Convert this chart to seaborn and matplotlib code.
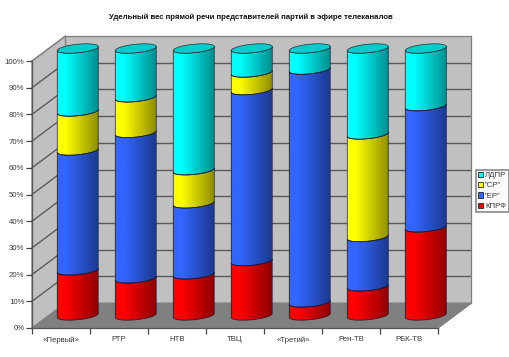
import numpy as np
import matplotlib
matplotlib.use("Agg")
import matplotlib.pyplot as plt
import seaborn as sns
import pandas as pd
from matplotlib.patches import Polygon, Patch
from matplotlib.colors import LinearSegmentedColormap
from matplotlib.lines import Line2D

channels = ["«Первый»", "РТР", "НТВ", "ТВЦ", "«Третий»", "Рен-ТВ", "РБК-ТВ"]
kprf = [16.9, 13.9, 15.4, 20.4, 4.9, 10.9, 33.0]
er = [44.9, 54.5, 26.6, 64.0, 87.2, 18.5, 45.4]
sr = [14.6, 13.3, 12.4, 6.6, 0.0, 38.4, 0.0]
ldpr = [23.6, 18.3, 45.6, 9.0, 7.9, 32.2, 21.6]
series_names = ["КПРФ", '"ЕР"', '"СР"', "ЛДПР"]
series_values = [kprf, er, sr, ldpr]
title = "Удельный вес прямой речи представителей партий в эфире телеканалов"

palette = {
    "КПРФ": ("#FF0000", "#8F0000", "#CC0000"),
    '"ЕР"': ("#3366FF", "#1C3A8F", "#2A52CC"),
    '"СР"': ("#FFFF00", "#8F8F00", "#CCCC00"),
    "ЛДПР": ("#00FFFF", "#008F8F", "#00CCCC"),
}

W, H = 510, 357
sns.set_theme(style="white")
plt.rcParams["font.family"] = ["Liberation Sans", "DejaVu Sans"]
fig = plt.figure(figsize=(W / 100, H / 100), dpi=100, facecolor="white")


def axes_px(left, top, right, bottom):
    return fig.add_axes([left / W, 1 - bottom / H, (right - left) / W, (bottom - top) / H])


def fpoly(pts, **kw):
    p = Polygon([(x / W, 1 - y / H) for x, y in pts], closed=True,
                transform=fig.transFigure, **kw)
    fig.add_artist(p)
    return p


def fline(xs, ys, **kw):
    fig.add_artist(Line2D([x / W for x in xs], [1 - y / H for y in ys],
                          transform=fig.transFigure, **kw))


FL, FR, FT, FB = 32, 438, 61, 328      # front plane
DX, DY = 33.5, 25                      # depth
GRID = "#5a5a5a"
WALL = "#C0C0C0"
EDGE = "#808080"

# back wall
ax_back = axes_px(FL + DX, FT - DY, FR + DX, FB - DY)
ax_back.set_facecolor(WALL)
ax_back.set_xlim(0, 1)
ax_back.set_ylim(0, 100)
ax_back.set_xticks([])
ax_back.set_yticks(range(10, 100, 10))
ax_back.tick_params(left=False, labelleft=False)
ax_back.grid(True, axis="y", color=GRID, lw=1.0)
for s in ax_back.spines.values():
    s.set_color(EDGE)
    s.set_linewidth(0.9)
ax_back.set_zorder(1)

# side wall and floor
fpoly([(FL, FT), (FL + DX, FT - DY), (FL + DX, FB - DY), (FL, FB)],
      facecolor=WALL, edgecolor=EDGE, lw=0.9, zorder=2)
fpoly([(FL, FB), (FL + DX, FB - DY), (FR + DX, FB - DY), (FR, FB)],
      facecolor="#808080", edgecolor="#808080", lw=0.6, zorder=2)
for pct in range(10, 100, 10):
    y = FB - (FB - FT) * pct / 100
    fline([FL, FL + DX], [y, y - DY], color=GRID, lw=1.0, zorder=3)
fline([FL, FL + DX], [FT, FT - DY], color=EDGE, lw=0.9, zorder=3)
fline([FR, FR + DX], [FB, FB - DY], color=EDGE, lw=0.9, zorder=3)

# front plane with real axes
ax = axes_px(FL, FT, FR, FB)
ax.patch.set_alpha(0)
ax.set_xlim(-0.5, len(channels) - 0.5)
ax.set_ylim(0, 100)
ax.set_yticks(range(0, 101, 10))
ax.set_yticklabels([f"{v}%" for v in range(0, 101, 10)], fontsize=5.6, color="#3a3a3a")
ax.set_xticks(np.arange(len(channels) + 1) - 0.5)
ax.set_xticklabels([])
ax.set_xticks(np.arange(len(channels)), minor=True)
ax.set_xticklabels(channels, minor=True, fontsize=5.6, color="#3a3a3a")
ax.tick_params(axis="both", which="major", length=4, width=0.9, color="#444444",
               direction="out", left=True, bottom=True, pad=1.5)
ax.tick_params(axis="x", which="minor", length=0, pad=6)
ax.spines["top"].set_visible(False)
ax.spines["right"].set_visible(False)
ax.spines["left"].set_color("#555555")
ax.spines["bottom"].set_color("#555555")
ax.spines["left"].set_linewidth(0.9)
ax.spines["bottom"].set_linewidth(0.9)
ax.set_zorder(4)

# cylinders on the middle plane
ax_mid = axes_px(FL + DX / 2, FT - DY / 2, FR + DX / 2, FB - DY / 2)
ax_mid.set_zorder(5)
ax_mid.patch.set_alpha(0)
bottoms = np.zeros(len(channels))
BAR_W = 41 / 58
ELL_H = 8.5 * 100 / (FB - FT)      # cap height in percent
TILT = 2.0 * 100 / (FB - FT)       # left edge lower than right
df = pd.DataFrame({"channel": channels})


def arc(xc, yv, hw, t0=np.pi, t1=2 * np.pi, n=60):
    ts = np.linspace(t0, t1, n)
    xs = xc + hw * np.cos(ts)
    ys = yv + ELL_H / 2 * np.sin(ts) + TILT * np.cos(ts)
    return np.column_stack([xs, ys])


grad = np.linspace(0, 1, 64)[None, :]
for name, vals in zip(series_names, series_values):
    vals = np.array(vals, dtype=float)
    n0 = len(ax_mid.patches)
    sns.barplot(data=df.assign(v=vals), x="channel", y="v", bottom=bottoms, color=palette[name][0],
                width=BAR_W, ax=ax_mid, order=channels, saturation=1, linewidth=0, legend=False)
    cm = LinearSegmentedColormap.from_list(
        name, [(0, palette[name][0]), (0.2, palette[name][0]), (1, palette[name][1])])
    for rect, v, b in zip(list(ax_mid.patches[n0:]), vals, bottoms):
        if v <= 0:
            rect.set_visible(False)
            continue
        x0, w = rect.get_x(), rect.get_width()
        xc = x0 + w / 2
        low, up = arc(xc, b, w / 2), arc(xc, b + v, w / 2)
        poly = Polygon(np.vstack([low, up[::-1]]), closed=True, facecolor="none",
                       edgecolor="#1a1a33", lw=0.5, zorder=5, clip_on=False)
        ax_mid.add_patch(poly)
        im = ax_mid.imshow(grad, cmap=cm, vmin=0, vmax=1, aspect="auto", zorder=4,
                           extent=[x0, x0 + w, b - ELL_H, b + v + ELL_H])
        im.set_clip_path(poly)
        im.set_clip_box(fig.bbox)
        rect.set_clip_path(poly)
    bottoms = bottoms + vals

# caps
for i, tot in enumerate(bottoms):
    cap = Polygon(arc(i, tot, BAR_W / 2, 0, 2 * np.pi, 120), closed=True,
                  facecolor=palette["ЛДПР"][2], edgecolor="#1a3333", lw=0.5, zorder=6, clip_on=False)
    ax_mid.add_patch(cap)
ax_mid.set_xlim(-0.5, len(channels) - 0.5)
ax_mid.set_ylim(0, 100)
ax_mid.set_axis_off()

fig.text(251 / W, 1 - 17 / H, title, ha="center", va="center", fontsize=5.6,
         fontweight="bold", color="#111111")

# legend
handles = [Patch(facecolor=palette[n][0], edgecolor="#222222", lw=0.6, label=n)
           for n in reversed(series_names)]
leg = fig.legend(handles=handles, loc="upper left", bbox_to_anchor=(476 / W, 1 - 169.5 / H),
                 bbox_transform=fig.transFigure, fontsize=5.6, frameon=True, fancybox=False,
                 edgecolor="#808080", facecolor="#FAFAFA", framealpha=1, labelcolor="#3a3a3a",
                 borderpad=0.3, labelspacing=0.38, handlelength=0.62, handleheight=0.65,
                 handletextpad=0.25, borderaxespad=0)
leg.get_frame().set_linewidth(1.1)
leg.set_zorder(10)

fig.savefig("out.png", dpi=100)
